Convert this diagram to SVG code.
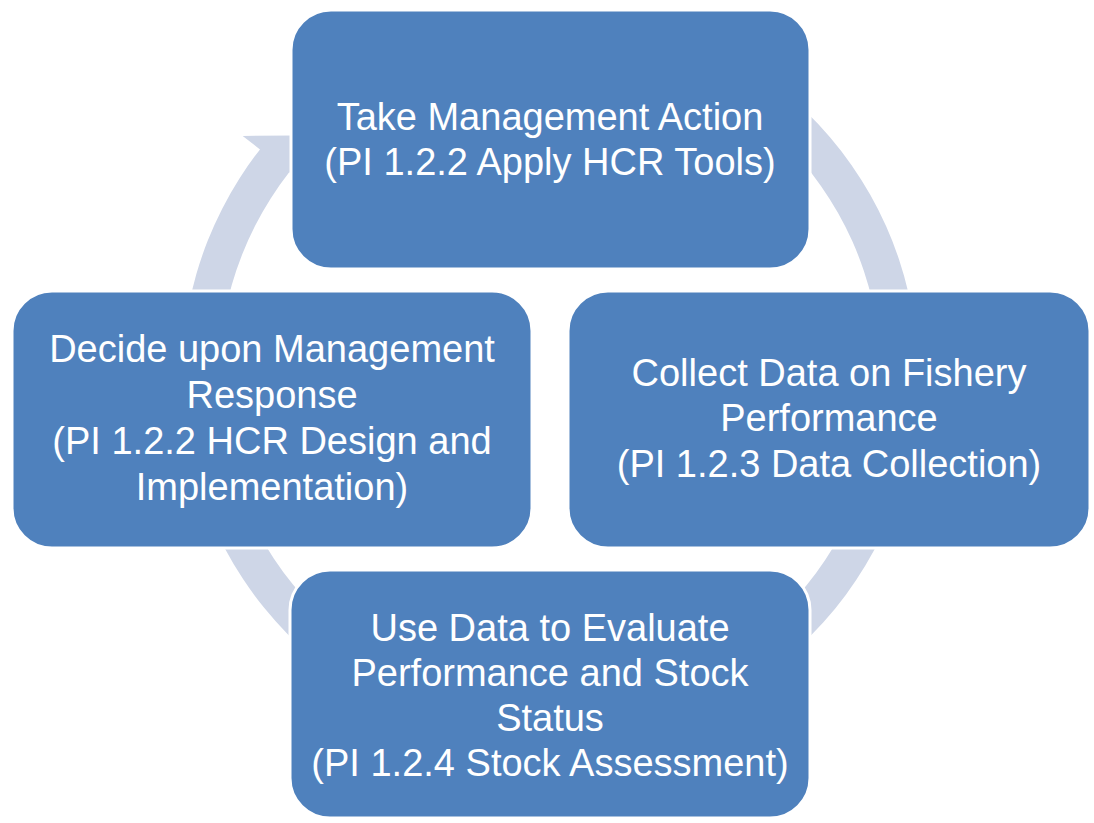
<svg xmlns="http://www.w3.org/2000/svg" width="1094" height="823" viewBox="0 0 1094 823">
  <style>
    .box { fill: #4F81BD; stroke: #FFFFFF; stroke-width: 3; }
    .lbl { font-family: "Liberation Sans", Arial, sans-serif; font-size: 38px; fill: #FFFFFF; text-anchor: middle; }
    .ring { fill: #CED6E7; }
  </style>
  <rect width="1094" height="823" fill="#FFFFFF"/>

  <!-- circular arrow running clockwise behind the four steps -->
  <g id="connectors">
    <path class="ring" d="M 805.6 111.3 A 368 368 0 1 1 260.0 149.4 L 242.7 135.9 L 294.3 135.6 L 306.5 185.8 L 289.2 172.2 A 331 331 0 1 0 779.9 137.9 Z"/>
  </g>

  <g id="node-take-action">
    <rect class="box" x="291" y="10" width="519" height="259" rx="40" ry="40"/>
    <text class="lbl"><tspan x="550" y="130">Take Management Action</tspan><tspan x="550" y="175">(PI 1.2.2 Apply HCR Tools)</tspan></text>
  </g>

  <g id="node-decide-response">
    <rect class="box" x="12" y="291" width="520" height="257" rx="40" ry="40"/>
    <text class="lbl"><tspan x="272" y="362">Decide upon Management</tspan><tspan x="272" y="408">Response</tspan><tspan x="272" y="454">(PI 1.2.2 HCR Design and</tspan><tspan x="272" y="500">Implementation)</tspan></text>
  </g>

  <g id="node-collect-data">
    <rect class="box" x="568" y="291" width="522" height="257" rx="40" ry="40"/>
    <text class="lbl"><tspan x="829" y="386">Collect Data on Fishery</tspan><tspan x="829" y="431">Performance</tspan><tspan x="829" y="477">(PI 1.2.3 Data Collection)</tspan></text>
  </g>

  <g id="node-evaluate">
    <rect class="box" x="290" y="570" width="520" height="248" rx="40" ry="40"/>
    <text class="lbl"><tspan x="550" y="641">Use Data to Evaluate</tspan><tspan x="550" y="686">Performance and Stock</tspan><tspan x="550" y="731">Status</tspan><tspan x="550" y="776">(PI 1.2.4 Stock Assessment)</tspan></text>
  </g>
</svg>
